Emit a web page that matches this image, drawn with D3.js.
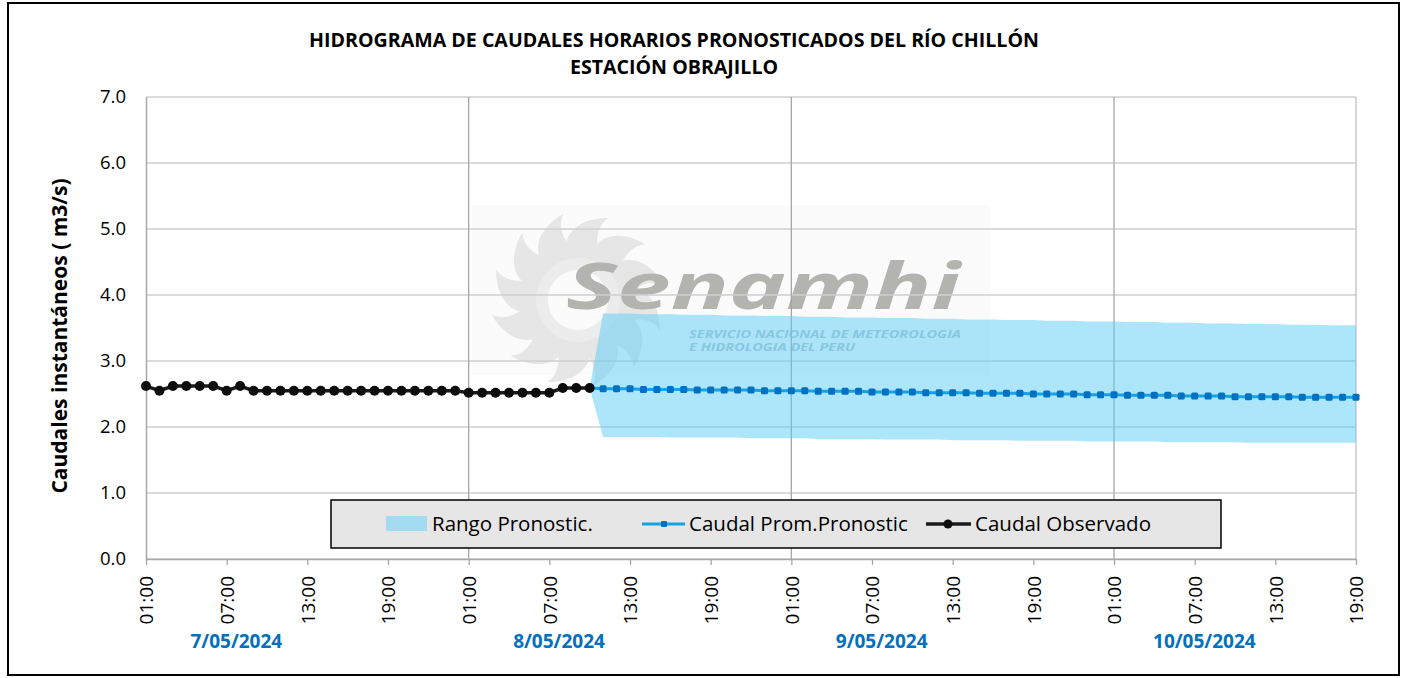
<!DOCTYPE html>
<html lang="es">
<head>
<meta charset="UTF-8">
<title>Hidrograma Rio Chillon</title>
<script src="https://cdn.jsdelivr.net/npm/d3@7"></script>
<style>
  body { margin: 0; background: #fff; }
  text { font-family: "Open Sans", "Noto Sans", sans-serif; }
</style>
</head>
<body>
<script>
var width = 1407, height = 678;
var margin = {top: 97, right: 51, bottom: 119, left: 146};

// first hour of the series
var startTime = "2024-05-07 01:00";

// observed flow, hourly from 7/05 01:00 to 8/05 10:00
var observed = [2.62, 2.55, 2.62, 2.62, 2.62, 2.62, 2.55, 2.62,
  2.55, 2.55, 2.55, 2.55, 2.55, 2.55, 2.55, 2.55, 2.55, 2.55, 2.55, 2.55, 2.55, 2.55, 2.55, 2.55,
  2.52, 2.52, 2.52, 2.52, 2.52, 2.52, 2.52, 2.59, 2.59, 2.59];

// forecast starts at the last observed hour (index 33 = 8/05 10:00)
var forecastStartIndex = 33;
var forecastMean = [2.59,
  2.58, 2.58, 2.58, 2.57, 2.57, 2.57, 2.57, 2.56, 2.56, 2.56, 2.56, 2.56, 2.55, 2.55, 2.55,
  2.55, 2.54, 2.54, 2.54, 2.54, 2.53, 2.53, 2.53, 2.53, 2.52, 2.52, 2.52, 2.52, 2.51, 2.51, 2.51, 2.51, 2.50, 2.50, 2.50, 2.50, 2.49, 2.49, 2.49,
  2.48, 2.48, 2.48, 2.48, 2.47, 2.47, 2.47, 2.47, 2.46, 2.46, 2.46, 2.46, 2.46, 2.45, 2.45, 2.45, 2.45, 2.45];
var forecastHigh = [2.59,
  3.72, 3.72, 3.72, 3.71, 3.71, 3.71, 3.70, 3.70, 3.70, 3.69,
  3.69, 3.69, 3.68, 3.68, 3.68, 3.67, 3.67, 3.67, 3.66, 3.66,
  3.66, 3.65, 3.65, 3.65, 3.64, 3.64, 3.64, 3.63, 3.63, 3.63,
  3.62, 3.62, 3.62, 3.61, 3.61, 3.61, 3.60, 3.60, 3.60, 3.59,
  3.59, 3.59, 3.58, 3.58, 3.58, 3.57, 3.57, 3.57, 3.56, 3.56,
  3.56, 3.55, 3.55, 3.55, 3.54, 3.54, 3.54];
var forecastLow = [2.59,
  1.85, 1.85, 1.85, 1.85, 1.85, 1.84, 1.84, 1.84, 1.84, 1.84,
  1.84, 1.83, 1.83, 1.83, 1.83, 1.83, 1.82, 1.82, 1.82, 1.82,
  1.82, 1.81, 1.81, 1.81, 1.81, 1.81, 1.80, 1.80, 1.80, 1.80,
  1.80, 1.79, 1.79, 1.79, 1.79, 1.79, 1.78, 1.78, 1.78, 1.78,
  1.78, 1.78, 1.77, 1.77, 1.77, 1.77, 1.77, 1.77, 1.76, 1.76,
  1.76, 1.76, 1.76, 1.76, 1.76, 1.76, 1.76];

var yTicks = [0, 1, 2, 3, 4, 5, 6, 7];
var dayLabels = ["7/05/2024", "8/05/2024", "9/05/2024", "10/05/2024"];
var legendLabels = ["Rango Pronostic.", "Caudal Prom.Pronostic", "Caudal Observado"];
var titleLines = ["HIDROGRAMA DE CAUDALES HORARIOS PRONOSTICADOS DEL RÍO CHILLÓN", "ESTACIÓN OBRAJILLO"];
var yTitle = "Caudales instantáneos  ( m3/s)";

var t0 = d3.timeParse("%Y-%m-%d %H:%M")(startTime);
function hourAt(i) { return d3.timeHour.offset(t0, i); }

var obsData = observed.map(function (v, i) { return {t: hourAt(i), v: v}; });
var fcData = forecastMean.map(function (v, i) {
  return {t: hourAt(forecastStartIndex + i), v: v, hi: forecastHigh[i], lo: forecastLow[i]};
});
var lastT = fcData[fcData.length - 1].t;

var x = d3.scaleTime().domain([t0, lastT]).range([margin.left, width - margin.right]);
var y = d3.scaleLinear().domain([0, 7]).range([height - margin.bottom, margin.top]);

var svg = d3.select("body").append("svg").attr("width", width).attr("height", height);

svg.append("rect").attr("x", 0).attr("y", 0).attr("width", width).attr("height", height).attr("fill", "#fff");
svg.append("rect").attr("x", 8).attr("y", 3).attr("width", 1391).attr("height", 672)
  .attr("fill", "none").attr("stroke", "#000").attr("stroke-width", 2);

// titles
svg.selectAll(".title").data(titleLines).enter().append("text")
  .attr("x", 674).attr("y", function (d, i) { return 47 + i * 27; })
  .attr("text-anchor", "middle").attr("font-weight", "bold").attr("font-size", 19.6)
  .attr("fill", "#000").text(function (d) { return d; });

// watermark
var wm = svg.append("g").attr("class", "watermark");
wm.append("rect").attr("x", 472).attr("y", 205).attr("width", 518).attr("height", 170).attr("fill", "#fbfbfb");
var sun = wm.append("g").attr("transform", "translate(578,300)");
d3.range(12).forEach(function (k) {
  sun.append("path")
    .attr("d", "M-18,-38 C-30,-64 -10,-82 16,-86 C3,-74 8,-56 18,-38 Z")
    .attr("transform", "rotate(" + (k * 30 - 20) + ")")
    .attr("fill", "#e6e6e6");
});
sun.append("circle").attr("r", 42).attr("fill", "#ececec");
sun.append("circle").attr("r", 30).attr("fill", "#fbfbfb");
wm.append("text").attr("x", 566).attr("y", 309).attr("font-size", 64).attr("font-weight", "bold")
  .attr("font-style", "italic").attr("fill", "#b3b3b0")
  .attr("textLength", 394).attr("lengthAdjust", "spacingAndGlyphs").text("Senamhi");
wm.append("text").attr("x", 689).attr("y", 338).attr("font-size", 11).attr("font-weight", "bold")
  .attr("font-style", "italic").attr("fill", "#b4c0c8")
  .attr("textLength", 272).attr("lengthAdjust", "spacingAndGlyphs").text("SERVICIO NACIONAL DE METEOROLOGIA");
wm.append("text").attr("x", 689).attr("y", 351).attr("font-size", 11).attr("font-weight", "bold")
  .attr("font-style", "italic").attr("fill", "#b4c0c8")
  .attr("textLength", 166).attr("lengthAdjust", "spacingAndGlyphs").text("E HIDROLOGIA DEL PERU");

// grid
svg.append("g").selectAll("line").data(yTicks).enter().append("line")
  .attr("x1", margin.left).attr("x2", width - margin.right)
  .attr("y1", function (d) { return y(d); }).attr("y2", function (d) { return y(d); })
  .attr("stroke", "#cfcfcf").attr("stroke-width", 1.3);
var dayStarts = dayLabels.map(function (d, i) { return hourAt(i * 24); });
svg.append("g").selectAll("line").data(dayStarts.slice(1)).enter().append("line")
  .attr("x1", function (d) { return x(d); }).attr("x2", function (d) { return x(d); })
  .attr("y1", margin.top).attr("y2", height - margin.bottom)
  .attr("stroke", "#a6a6a6").attr("stroke-width", 1.3);
svg.append("line").attr("x1", width - margin.right).attr("x2", width - margin.right)
  .attr("y1", margin.top).attr("y2", height - margin.bottom).attr("stroke", "#c8c8c8").attr("stroke-width", 1.5);

// forecast range band
svg.append("path").datum(fcData)
  .attr("d", d3.area().x(function (d) { return x(d.t); })
    .y0(function (d) { return y(d.lo); }).y1(function (d) { return y(d.hi); }))
  .attr("fill", "#5ccef7").attr("fill-opacity", 0.5);

// axes
var xTicks = d3.range(0, 91, 6).map(hourAt);
var xAxis = svg.append("g").attr("transform", "translate(0," + y(0) + ")")
  .call(d3.axisBottom(x).tickValues(xTicks).tickFormat(d3.timeFormat("%H:%M")).tickSizeInner(6).tickSizeOuter(0));
xAxis.select(".domain").attr("stroke", "#a6a6a6").attr("stroke-width", 1.5);
xAxis.selectAll(".tick line").attr("stroke", "#a6a6a6").attr("stroke-width", 1.3);
xAxis.selectAll(".tick text")
  .attr("transform", "rotate(-90)").attr("text-anchor", "end")
  .attr("x", -17).attr("y", 0).attr("dy", "0.36em")
  .attr("font-size", 19).attr("fill", "#000")
  .style("font-family", "'Open Sans', sans-serif");

var yAxis = svg.append("g").attr("transform", "translate(" + margin.left + ",0)")
  .call(d3.axisLeft(y).tickValues(yTicks).tickFormat(d3.format(".1f")).tickSizeInner(0).tickSizeOuter(0).tickPadding(20));
yAxis.select(".domain").attr("stroke", "#a6a6a6").attr("stroke-width", 1.5);
yAxis.selectAll(".tick text").attr("font-size", 18.5).attr("fill", "#000")
  .style("font-family", "'Open Sans', sans-serif");

svg.append("text").attr("transform", "translate(67,336) rotate(-90)")
  .attr("text-anchor", "middle").attr("font-weight", "bold").attr("font-size", 21)
  .text(yTitle);

// day labels below the hour ticks
svg.selectAll(".day").data(dayLabels).enter().append("text")
  .attr("x", function (d, i) { return x(dayStarts[i]) + 0.28 * (x(hourAt(24)) - x(t0)); })
  .attr("y", 648).attr("text-anchor", "middle").attr("font-weight", "bold").attr("font-size", 19)
  .attr("fill", "#0070c0").text(function (d) { return d; });

// forecast mean line
svg.append("path").datum(fcData)
  .attr("d", d3.line().x(function (d) { return x(d.t); }).y(function (d) { return y(d.v); }))
  .attr("fill", "none").attr("stroke", "#13a3e3").attr("stroke-width", 3);
svg.append("g").selectAll("rect").data(fcData).enter().append("rect")
  .attr("x", function (d) { return x(d.t) - 3.5; }).attr("y", function (d) { return y(d.v) - 3.5; })
  .attr("width", 7).attr("height", 7).attr("rx", 1.5).attr("fill", "#0070c0");

// observed line
svg.append("path").datum(obsData)
  .attr("d", d3.line().x(function (d) { return x(d.t); }).y(function (d) { return y(d.v); }))
  .attr("fill", "none").attr("stroke", "#1a1a1a").attr("stroke-width", 3.5);
svg.append("g").selectAll("circle").data(obsData).enter().append("circle")
  .attr("cx", function (d) { return x(d.t); }).attr("cy", function (d) { return y(d.v); })
  .attr("r", 5).attr("fill", "#0d0d0d");

// legend
var lg = svg.append("g");
lg.append("rect").attr("x", 331).attr("y", 500).attr("width", 890).attr("height", 48)
  .attr("fill", "#e6e6e6").attr("stroke", "#000").attr("stroke-width", 1.5);
lg.append("rect").attr("x", 386).attr("y", 516).attr("width", 41).attr("height", 15).attr("fill", "#a3dcf1");
lg.append("line").attr("x1", 642).attr("x2", 685).attr("y1", 524).attr("y2", 524).attr("stroke", "#13a3e3").attr("stroke-width", 3);
lg.append("rect").attr("x", 661).attr("y", 521).attr("width", 6).attr("height", 6).attr("rx", 1).attr("fill", "#0070c0");
lg.append("line").attr("x1", 926).attr("x2", 971).attr("y1", 524).attr("y2", 524).attr("stroke", "#1a1a1a").attr("stroke-width", 3.5);
lg.append("circle").attr("cx", 948).attr("cy", 524).attr("r", 4.5).attr("fill", "#0d0d0d");
var legendX = [432, 689, 975];
lg.selectAll("text").data(legendLabels).enter().append("text")
  .attr("x", function (d, i) { return legendX[i]; }).attr("y", 531)
  .attr("font-size", 20.5).attr("fill", "#000").text(function (d) { return d; });
</script>
</body>
</html>
